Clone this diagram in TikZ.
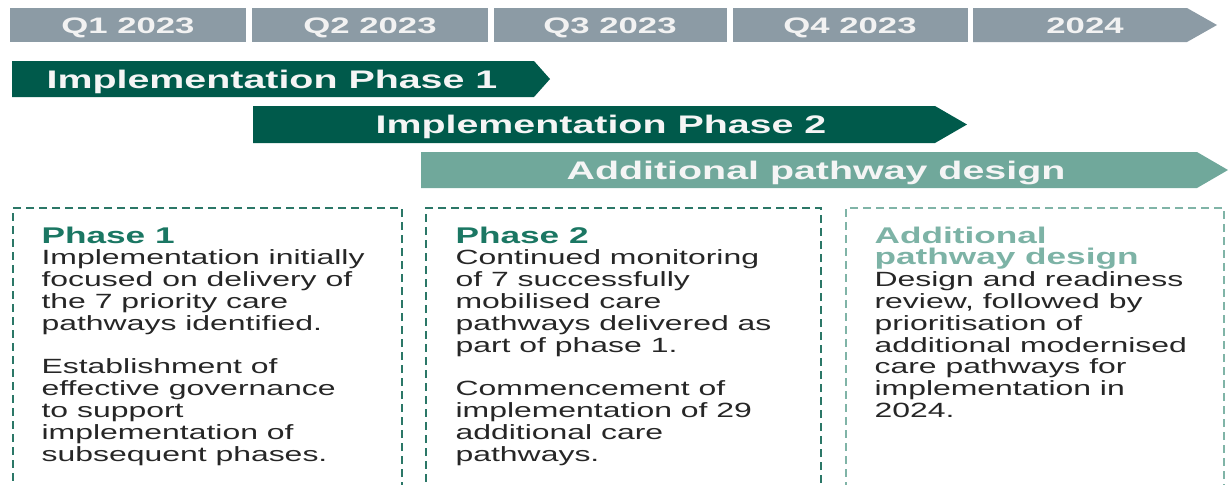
\documentclass[tikz,border=0pt]{standalone}
\usepackage{fontspec}
\setmainfont{Liberation Sans}[FakeStretch=1.55]
\usetikzlibrary{positioning,fit}

\definecolor{quartergrey}{HTML}{8C9BA5}
\definecolor{phasedark}{HTML}{005A4B}
\definecolor{designteal}{HTML}{70A89B}
\definecolor{boxgreen}{HTML}{2B7767}
\definecolor{boxteal}{HTML}{80B4A7}
\definecolor{headgreen}{HTML}{1B7763}
\definecolor{headteal}{HTML}{7DB3A6}
\definecolor{bodytext}{HTML}{262626}

\newcommand{\boxhead}{\fontsize{11.35}{10.9}\selectfont\bfseries}

\begin{document}
\begin{tikzpicture}[
    x=0.5pt, y=-0.5pt, % one unit per pixel, y running down
    every node/.style={inner sep=0pt},
    quarter/.style={fill=quartergrey, inner sep=0pt},
    quarterlabel/.style={
      anchor=base, text=white!95!black,
      font=\fontsize{11.2}{13}\selectfont\bfseries
    },
    barlabel/.style={
      anchor=base, text=white!96!black,
      font=\fontsize{12.7}{15}\selectfont\bfseries
    },
    detailbox/.style={
      draw=#1, dash pattern=on 4pt off 2.5pt,
      line width=0.8pt, inner sep=0pt
    },
    boxtext/.style={
      anchor=north west, align=left, text=bodytext,
      font=\fontsize{10.3}{10.9}\selectfont
    },
  ]

  \useasboundingbox (0,0) rectangle (1231,484);
  \clip (0,0) rectangle (1231,484);

  % --- Quarter header ---
  \node[quarter, fit={(10,8) (246,42)}] (q1) {};
  \node[quarter, fit={(252,8) (488,42)}] (q2) {};
  \node[quarter, fit={(494,8) (727,42)}] (q3) {};
  \node[quarter, fit={(733,8) (968,42)}] (q4) {};
  \fill[quartergrey] (973,8) -- (1187,8) -- (1217,25) -- (1187,42) -- (973,42) -- cycle;

  \node[quarterlabel] (q1label) at (128,33) {Q1 2023};
  \node[quarterlabel] (q2label) at (370,33) {Q2 2023};
  \node[quarterlabel] (q3label) at (610,33) {Q3 2023};
  \node[quarterlabel] (q4label) at (850,33) {Q4 2023};
  \node[quarterlabel] (y24label) at (1085,33) {2024};

  % --- Phase bars ---
  \fill[phasedark] (12,61) -- (534,61) -- (550,79) -- (534,97) -- (12,97) -- cycle;
  \node[barlabel] (phase1) at (272,88) {Implementation Phase 1};

  \fill[phasedark] (253,106) -- (935,106) -- (967,124.5) -- (935,143) -- (253,143) -- cycle;
  \node[barlabel] (phase2) at (601,133.5) {Implementation Phase 2};

  \fill[designteal] (421,152) -- (1197,152) -- (1228,170) -- (1197,188) -- (421,188) -- cycle;
  \node[barlabel] (design) at (816,179) {Additional pathway design};

  % --- Detail boxes (open at the bottom) ---
  \node[detailbox=boxgreen, fit={(13,208) (402,530)}] (box1) {};
  \node[detailbox=boxgreen, fit={(426,208) (821,530)}] (box2) {};
  \node[detailbox=boxteal, fit={(846,208) (1224,530)}] (box3) {};

  \node[boxtext] (text1) at ([shift={(29,19)}]box1.north west)
    {{\boxhead\color{headgreen}Phase 1}\\
     Implementation initially\\
     focused on delivery of\\
     the 7 priority care\\
     pathways identified.\\[10.9pt]
     Establishment of\\
     effective governance\\
     to support\\
     implementation of\\
     subsequent phases.};

  \node[boxtext] (text2) at ([shift={(30,19)}]box2.north west)
    {{\boxhead\color{headgreen}Phase 2}\\
     Continued monitoring\\
     of 7 successfully\\
     mobilised care\\
     pathways delivered as\\
     part of phase 1.\\[10.9pt]
     Commencement of\\
     implementation of 29\\
     additional care\\
     pathways.};

  \node[boxtext] (text3) at ([shift={(29,19)}]box3.north west)
    {{\boxhead\color{headteal}Additional}\\
     {\boxhead\color{headteal}pathway design}\\
     Design and readiness\\
     review, followed by\\
     prioritisation of\\
     additional modernised\\
     care pathways for\\
     implementation in\\
     2024.};
\end{tikzpicture}
\end{document}
